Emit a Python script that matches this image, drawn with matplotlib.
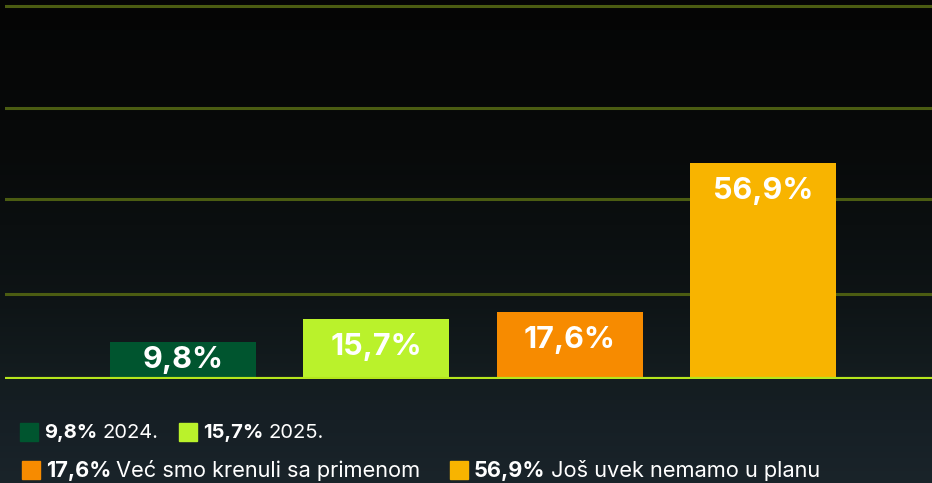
import numpy as np
import matplotlib
matplotlib.use("Agg")
import matplotlib.pyplot as plt
from matplotlib.patches import Rectangle

# podaci
kategorije = ["2024.", "2025.", "Već smo krenuli sa primenom", "Još uvek nemamo u planu"]
vrednosti = [9.8, 15.7, 17.6, 56.9]
boje = ["#00552f", "#baf22b", "#f78b00", "#f8b400"]
mreza = [22.3, 47.4, 71.3, 98.3]

plt.rcParams['font.family'] = ['Inter', 'DejaVu Sans']

W, H = 932, 483
fig = plt.figure(figsize=(W / 100, H / 100), dpi=100)

# pozadina - tamni gradijent
bg = fig.add_axes([0, 0, 1, 1])
stops_y = [0, 150, 300, 380, 420, 483]
stops_c = np.array([[5, 5, 5], [8, 10, 10], [14, 20, 22], [20, 29, 32], [22, 31, 37], [26, 36, 42]]) / 255
yy = np.arange(H)
grad = np.stack([np.interp(yy, stops_y, stops_c[:, k]) for k in range(3)], axis=1)
bg.imshow(grad[:, None, :], aspect='auto', extent=[0, 1, 0, 1])
bg.axis('off')

# glavni grafikon
ax = fig.add_axes([5 / W, (H - 379) / H, 927 / W, 379 / H])
ax.patch.set_alpha(0)
x = np.arange(len(vrednosti))
ax.bar(x, vrednosti, width=0.755, color=boje, zorder=3)
for g in mreza:
    ax.axhline(g, color="#4b5c12", lw=2.2, zorder=1)
ax.axhline(0, color="#b5e61d", lw=3, zorder=4)
ax.set_xlim(-0.921, 3.874)
ax.set_ylim(0, 99.8)
ax.axis('off')

for xi, v in zip(x, vrednosti):
    yc = max(v - 28 / 3.8, v / 2)
    ax.text(xi, yc, f"{v:.1f}%".replace(".", ","), ha='center', va='center',
            color='white', fontsize=22, fontweight='bold', zorder=5)

# legenda
stavke = [(20, 431.5, 0, 14.5), (179, 431.5, 1, 14.5), (22, 470, 2, 15.7), (450, 470, 3, 15.7)]
fig.canvas.draw()
r = fig.canvas.get_renderer()
for px, py, i, fs in stavke:
    fig.patches.append(Rectangle((px / W, 1 - (py + 9) / H), 18 / W, 18 / H,
                                 transform=fig.transFigure, color=boje[i], zorder=5))
    tb = fig.text((px + 24) / W, 1 - (py + 7) / H, f"{vrednosti[i]:.1f}%".replace(".", ","),
                  color='white', fontsize=fs, fontweight='bold', va='baseline')
    bb = tb.get_window_extent(renderer=r)
    fig.text(bb.x1 / W + 5 / W, 1 - (py + 7) / H, kategorije[i],
             color='white', fontsize=fs, va='baseline')

fig.savefig("out.png", dpi=100)
